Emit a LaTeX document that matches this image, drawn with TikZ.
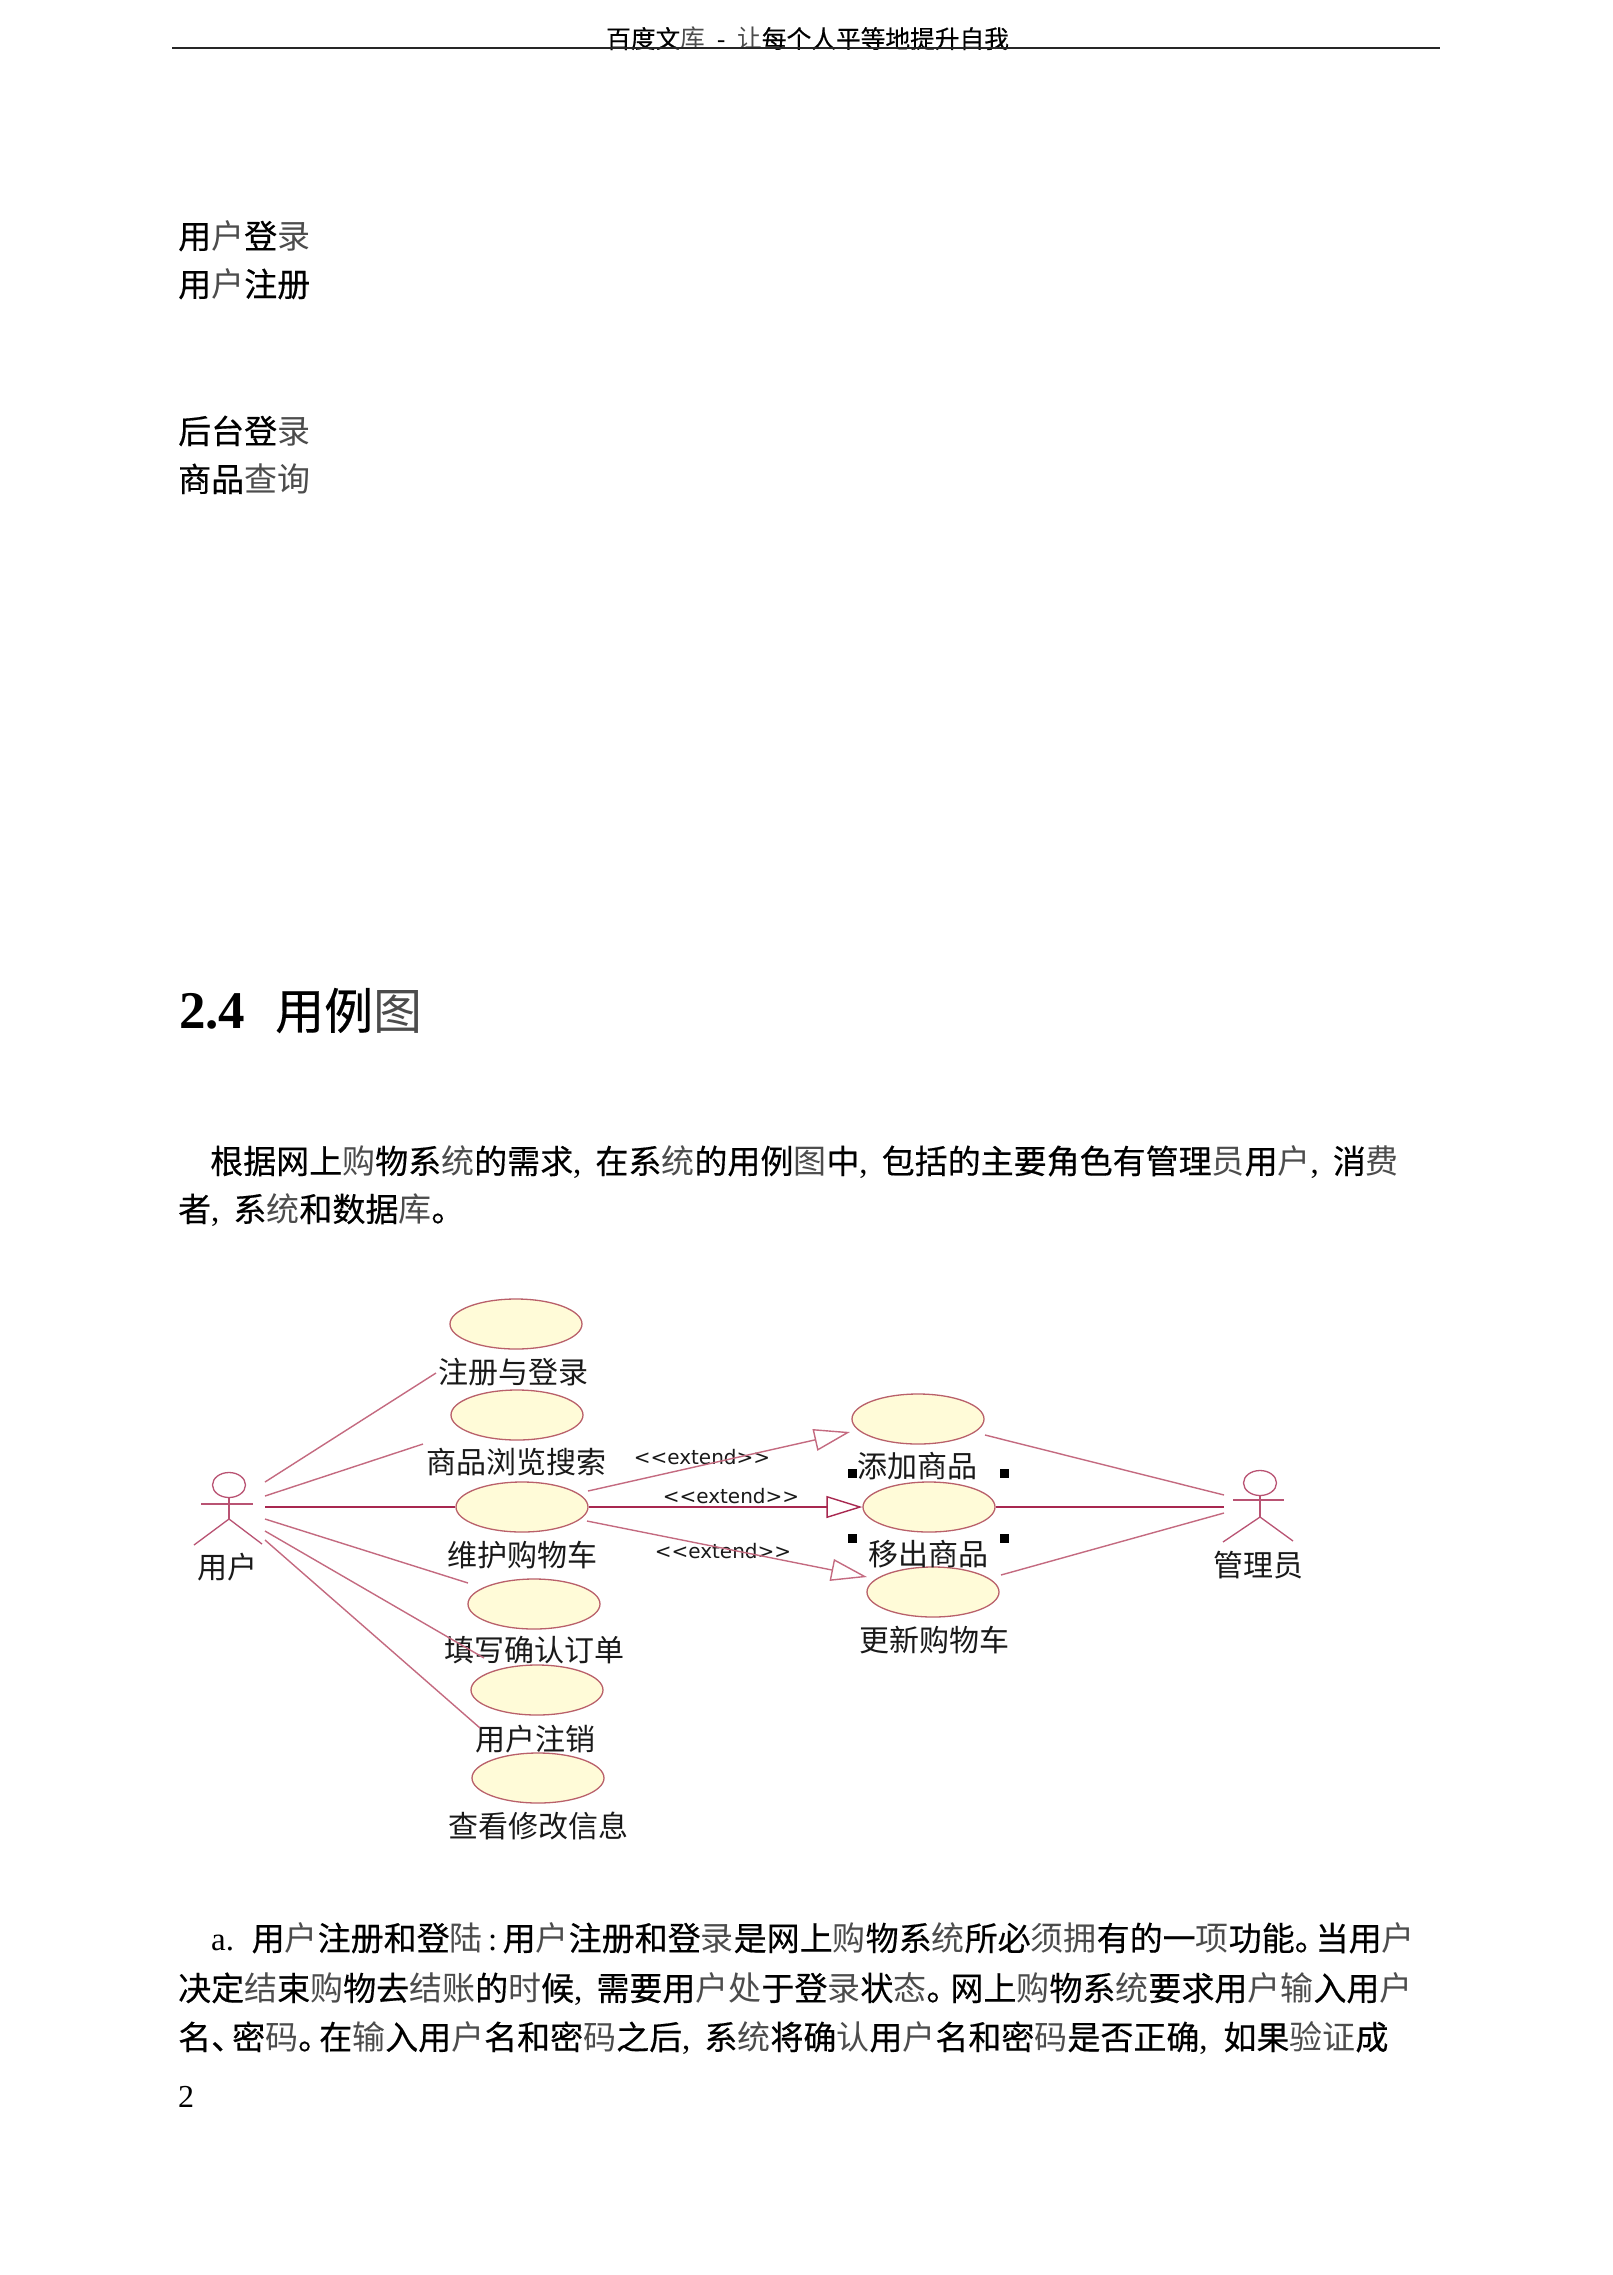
\documentclass[tikz,border=0pt]{standalone}
\usepackage{fontspec}
\usetikzlibrary{shapes.geometric,arrows.meta}
\setmainfont{Noto Sans CJK SC}[FakeBold=0.4]
\newfontfamily\thinf{Noto Sans CJK SC}
\newfontfamily\labf{Noto Sans CJK SC}
\newfontfamily\serf{Liberation Serif}
\newfontfamily\serbf{Liberation Serif Bold}
\newfontfamily\latf{DejaVu Sans}
\definecolor{ucfill}{HTML}{FFFBD8}
\definecolor{ucline}{HTML}{B9606A}
\definecolor{thinline}{HTML}{C46A80}
\definecolor{thickline}{HTML}{A82850}
\newcommand{\Th}[1]{{\thinf\color{black!70}#1}}
\newcommand{\Cm}{{\serf ,}\hspace{14pt}}
\newcommand{\Ju}{\makebox[21pt][l]{。}}
\newcommand{\Du}{\makebox[21pt][l]{、}}
\tikzset{
  x=1pt,y=-1pt,
  page/.style={anchor=base west,inner sep=0pt,font=\fontsize{33}{33}\selectfont},
  usecase/.style={ellipse,draw=ucline,fill=ucfill,line width=1.3pt,minimum width=132pt,minimum height=50pt,inner sep=0pt},
  lab/.style={inner sep=0pt,text=black!90,font=\labf\fontsize{30}{30}\selectfont},
  ext/.style={inner sep=0pt,text=black!90,font=\latf\fontsize{20}{20}\selectfont},
  conn/.style={draw=thinline,line width=1.4pt},
  connb/.style={draw=thickline,line width=2pt},
  openhead/.style={-{Triangle[open,length=36pt,width=22pt,line width=1.4pt]}},
  stick/.style={draw=thickline!80,line width=1.3pt},
  handle/.style={fill=black,inner sep=0pt,minimum size=9pt},
}
\begin{document}
\begin{tikzpicture}
\useasboundingbox[fill=white] (0,0) rectangle (1612,2275);
% header
\node[anchor=base west,inner sep=0pt,font=\fontsize{24.7}{25}\selectfont] (hdr) at (606,48) {百度文\Th{库}\hspace{12pt}{\serf -}\hspace{12pt}\Th{让}每个人平等地提升自我};
\coordinate (ruleL) at (172,48);
\coordinate (ruleR) at (1440,48);
\draw[black!85,line width=2.6pt] (ruleL) -- (ruleR);
% top text
\node[page] (t1) at (178,248.5) {用\Th{户}登\Th{录}};
\node[page] (t2) at (178,296.5) {用\Th{户}注册};
\node[page] (t3) at (178,443.5) {后台登\Th{录}};
\node[page] (t4) at (178,491.5) {商品\Th{查询}};
% heading
\node[anchor=base west,inner sep=0pt,font=\serbf\fontsize{53}{53}\selectfont] (h1) at (179,1028) {2.4};
\node[anchor=base west,inner sep=0pt,font=\fontsize{49}{49}\selectfont] (h2) at (275,1029) {用例\Th{图}};
% paragraph
\node[page] (p1) at (210,1173.5) {根据网上\Th{购}物系\Th{统}的需求\Cm 在系\Th{统}的用例\Th{图}中\Cm 包括的主要角色有管理\Th{员}用\Th{户}\Cm 消\Th{费}};
\node[page] (p2) at (178,1221.5) {者\Cm 系\Th{统}和数据\Th{库}。};
% use cases
\node[usecase] (uc1) at (516,1324) {};
\node[usecase] (uc2) at (517,1415) {};
\node[usecase] (uc3) at (522,1507) {};
\node[usecase] (uc4) at (534,1604) {};
\node[usecase] (uc5) at (537,1690) {};
\node[usecase] (uc6) at (538,1778) {};
\node[usecase] (uc7) at (918,1419) {};
\node[usecase] (uc8) at (929,1507) {};
\node[usecase] (uc9) at (933,1592) {};
% actors
\node[ellipse,draw=thickline!80,line width=1.3pt,minimum width=33pt,minimum height=25pt,inner sep=0pt] (actL) at (229,1485) {};
\coordinate (aLa) at (201,1504); \coordinate (aLb) at (253,1504);
\coordinate (aLh) at (229,1519); \coordinate (aLl) at (194,1545); \coordinate (aLr) at (262,1544);
\draw[stick] (aLa) -- (aLb);
\draw[stick] (actL.south) -- (aLh);
\draw[stick] (aLl) -- (aLh) -- (aLr);
\node[ellipse,draw=thickline!80,line width=1.3pt,minimum width=33pt,minimum height=25pt,inner sep=0pt] (actR) at (1260,1483) {};
\coordinate (aRa) at (1233,1500); \coordinate (aRb) at (1284,1500);
\coordinate (aRh) at (1260,1517); \coordinate (aRl) at (1223,1542); \coordinate (aRr) at (1293,1541);
\draw[stick] (aRa) -- (aRb);
\draw[stick] (actR.south) -- (aRh);
\draw[stick] (aRl) -- (aRh) -- (aRr);
% labels
\node[lab] (lu) at (227,1567) {用户};
\node[lab] (la) at (1258,1565) {管理员};
\node[lab] (l1) at (513,1372) {注册与登录};
\node[lab] (l2) at (516,1462) {商品浏览搜索};
\node[lab] (l3) at (522,1555) {维护购物车};
\node[lab] (l4) at (534,1650) {填写确认订单};
\node[lab] (l5) at (535,1739) {用户注销};
\node[lab] (l6) at (538,1826) {查看修改信息};
\node[lab] (l7) at (917,1466) {添加商品};
\node[lab] (l8) at (928,1554) {移出商品};
\node[lab] (l9) at (934,1640) {更新购物车};
\node[ext] (e1) at (702,1457) {<{}<extend>{}>};
\node[ext] (e2) at (731,1496) {<{}<extend>{}>};
\node[ext] (e3) at (723,1551) {<{}<extend>{}>};
% connector ends
\coordinate (s1) at (265,1482); \coordinate (s2) at (265,1496); \coordinate (s3) at (265,1507);
\coordinate (s4) at (265,1519); \coordinate (s5) at (265,1531); \coordinate (s6) at (265,1540);
\coordinate (n1) at (436,1373); \coordinate (n2) at (423,1444); \coordinate (n4) at (468,1583);
\coordinate (n5) at (484,1658); \coordinate (n6) at (480,1728);
\draw[conn] (s1) -- (n1);
\draw[conn] (s2) -- (n2);
\draw[connb] (s3) -- (uc3.west);
\draw[conn] (s4) -- (n4);
\draw[conn] (s5) -- (n5);
\draw[conn] (s6) -- (n6);
% extend arrows
\coordinate (x1s) at (588,1491); \coordinate (x1t) at (850,1432);
\coordinate (x3s) at (587,1521); \coordinate (x3t) at (867,1577);
\draw[conn,openhead] (x1s) -- (x1t);
\draw[connb,openhead] (uc3.east) -- (uc8.west);
\draw[conn,openhead] (x3s) -- (x3t);
% admin connectors
\coordinate (r1) at (985,1435); \coordinate (r3) at (1001,1575);
\coordinate (q1) at (1224,1495); \coordinate (q2) at (1224,1507); \coordinate (q3) at (1224,1513);
\draw[conn] (r1) -- (q1);
\draw[connb] (uc8.east) -- (q2);
\draw[conn] (r3) -- (q3);
% selection handles
\node[handle] (hA) at (852.5,1473) {};
\node[handle] (hB) at (1004.5,1473) {};
\node[handle] (hC) at (852.5,1538) {};
\node[handle] (hD) at (1004.5,1538) {};
% lower paragraph
\node[page] (a0) at (211,1950.5) {{\serf a.}};
\node[page] (a1) at (251.5,1950.5) {用\Th{户}注册和登\Th{陆}\makebox[20pt][c]{{\serf :}}用\Th{户}注册和登\Th{录}是网上\Th{购}物系\Th{统}所必\Th{须拥}有的一\Th{项}功能\Ju 当用\Th{户}};
\node[page] (a2) at (178,2000.5) {决定\Th{结}束\Th{购}物去\Th{结账}的\Th{时}候\Cm 需要用\Th{户处}于登\Th{录}状\Th{态}\makebox[24pt][l]{。}网上\Th{购}物系\Th{统}要求用\Th{户输}入用\Th{户}};
\node[page] (a3) at (178,2049.5) {名\Du 密\Th{码}\Ju 在\Th{输}入用\Th{户}名和密\Th{码}之后\Cm 系\Th{统}将确\Th{认}用\Th{户}名和密\Th{码}是否正确\makebox[24pt][l]{{\serf ,}}如果\Th{验证}成};
\node[anchor=base west,inner sep=0pt,font=\serf\fontsize{32}{32}\selectfont] (pg) at (178,2107) {2};
\end{tikzpicture}
\end{document}
